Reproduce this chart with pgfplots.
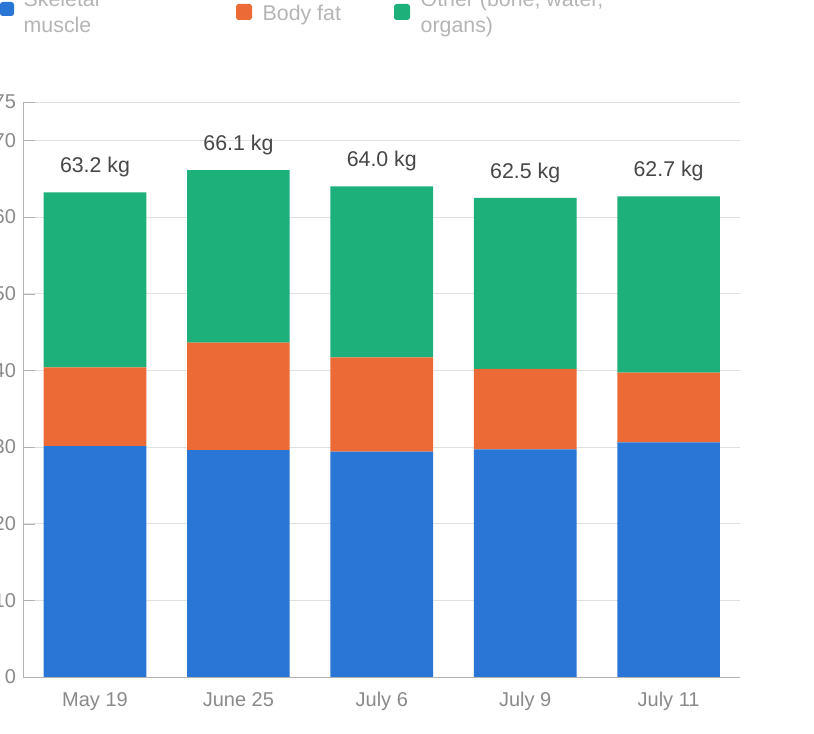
\documentclass[border=0pt]{standalone}
\usepackage{pgfplots}
\pgfplotsset{compat=1.18}
\usepackage{fontspec}
\setmainfont{Liberation Sans}
\definecolor{cblue}{HTML}{2A76D6}
\definecolor{corange}{HTML}{EC6A35}
\definecolor{cgreen}{HTML}{1DB07A}
\definecolor{tgray}{HTML}{8A8A8A}
\definecolor{lgray}{HTML}{B5B5B5}
\begin{document}
\begin{tikzpicture}
\clip (0pt,0pt) rectangle (610.5pt,550.5pt);
\fill[white] (0pt,0pt) rectangle (610.5pt,550.5pt);
\begin{axis}[at={(71.25pt,42.75pt)},anchor=origin,scale only axis,
  width=537.75pt,height=431.25pt,
  ybar stacked,bar width=77pt,
  xmin=-0.5,xmax=4.5,ymin=0,ymax=75,
  xtick=data,xticklabels={May 19,June 25,July 6,July 9,July 11},
  ytick={0,10,20,30,40,50,60,70,75},
  ymajorgrids,grid style={color=black!12},
  axis x line*=bottom,axis y line*=left,
  axis line style={color=black!30,-},
  major tick length=9pt,
  xtick style={draw=none},
  ytick style={color=black!30},
  tick label style={color=tgray,font=\fontsize{15}{17}\selectfont},
  yticklabel style={xshift=-2pt},
  xticklabel style={yshift=-8pt},
  /pgf/number format/assume math mode=true,
  ylabel={kg},ylabel style={color=tgray,font=\fontsize{13}{15}\selectfont,yshift=6pt},
  clip=false]
\addplot[fill=cblue,draw=none] coordinates {(0,30.1)(1,29.6)(2,29.4)(3,29.7)(4,30.6)};
\addplot[fill=corange,draw=none] coordinates {(0,10.3)(1,14.0)(2,12.3)(3,10.5)(4,9.1)};
\addplot[fill=cgreen,draw=none] coordinates {(0,22.8)(1,22.5)(2,22.3)(3,22.3)(4,23.0)};
\foreach \i/\m/\f/\t in {0/30.1/10.3/63.2,1/29.6/14.0/66.1,2/29.4/12.3/64.0,3/29.7/10.5/62.5,4/30.6/9.1/62.7}{
  \edef\tmp{\noexpand\node[white,font=\noexpand\fontsize{15}{17}\noexpand\selectfont] at (axis cs:\i,\m/2) {\m};
  \noexpand\node[white,font=\noexpand\fontsize{15}{17}\noexpand\selectfont] at (axis cs:\i,\m+\f/2) {\f};
  \noexpand\node[text=black!72,font=\noexpand\fontsize{16}{18}\noexpand\selectfont] at (axis cs:\i,\t+3.3) {\t\noexpand\ kg};}
  \tmp
}
\end{axis}
\begin{scope}[shift={(0pt,550.5pt)},x=0.75pt,y=-0.75pt]
\fill[cblue,rounded corners=2pt] (0,2) rectangle (14,16);
\node[anchor=north west,align=left,text=lgray,font=\fontsize{16}{19.5}\selectfont] at (19,-14) {Skeletal\\muscle};
\fill[corange,rounded corners=2pt] (236,4) rectangle (252,20);
\node[anchor=north west,align=left,text=lgray,font=\fontsize{16}{19.5}\selectfont] at (258,0) {Body fat};
\fill[cgreen,rounded corners=2pt] (394,4) rectangle (410,20);
\node[anchor=north west,align=left,text=lgray,font=\fontsize{16}{19.5}\selectfont] at (416,-14) {Other (bone, water,\\organs)};
\end{scope}
\end{tikzpicture}
\end{document}
